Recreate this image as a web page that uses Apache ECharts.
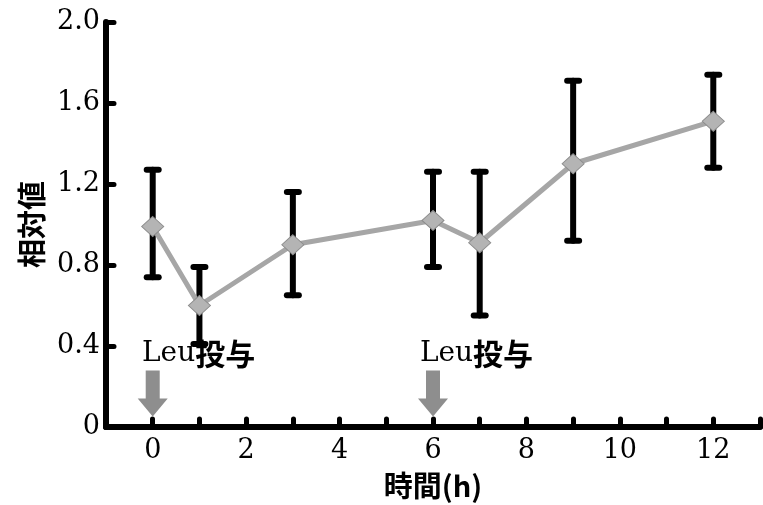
<!DOCTYPE html>
<html>
<head>
<meta charset="utf-8">
<script src="https://cdn.jsdelivr.net/npm/echarts@6/dist/echarts.min.js"></script>
<style>html,body{margin:0;padding:0;background:#fff;}#c{width:763px;height:505px;}</style>
</head>
<body>
<div id="c"></div>
<script>
var times = [0, 1, 3, 6, 7, 9, 12];
var means = [0.99, 0.60, 0.90, 1.02, 0.91, 1.30, 1.51];
var upper = [1.27, 0.79, 1.16, 1.26, 1.26, 1.71, 1.74];
var lower = [0.74, 0.41, 0.65, 0.79, 0.55, 0.92, 1.28];
var doseTimes = [0, 6];
var arrowLevel = 0.165;
var labelPos = [[-0.23, 0.362], [5.72, 0.362]];
var yTicks = ['0', '0.4', '0.8', '1.2', '1.6', '2.0'];
var xTicks = ['0', '2', '4', '6', '8', '10', '12'];

var serif = 'DejaVu Serif';
var gothic = 'Noto Sans CJK JP';

var chart = echarts.init(document.getElementById('c'));
var option = {
  animation: false,
  backgroundColor: '#fff',
  grid: { left: 106, top: 22, bottom: 76.5, width: 661.5, containLabel: false },
  xAxis: {
    type: 'value', min: -1, max: 13, interval: 1,
    name: '時間(h)', nameLocation: 'middle', nameGap: 44,
    nameTextStyle: { fontFamily: gothic, fontWeight: 'bold', fontSize: 29, color: '#000' },
    axisLine: { show: true, onZero: false, lineStyle: { color: '#000', width: 6 } },
    axisTick: { show: true, inside: true, length: 8, lineStyle: { color: '#000', width: 5, cap: 'round' } },
    axisLabel: {
      margin: 10, fontFamily: serif, fontSize: 27, fontWeight: 500, color: '#000',
      formatter: function (v) { var s = String(v); return xTicks.indexOf(s) >= 0 ? s : ''; }
    },
    splitLine: { show: false }
  },
  yAxis: {
    type: 'value', min: 0, max: 2.0, interval: 0.4,
    name: '相対値', nameLocation: 'middle', nameGap: 60, nameRotate: 90,
    nameTextStyle: { fontFamily: gothic, fontWeight: 'bold', fontSize: 29, color: '#000' },
    axisLine: { show: true, onZero: false, lineStyle: { color: '#000', width: 6 } },
    axisTick: { show: true, inside: true, length: 8, lineStyle: { color: '#000', width: 5, cap: 'round' } },
    axisLabel: {
      margin: 6, fontFamily: serif, fontSize: 27, fontWeight: 500, color: '#000',
      formatter: function (v) { var i = Math.round(v / 0.4); return yTicks[i]; }
    },
    splitLine: { show: false }
  },
  series: [
    {
      type: 'custom', z: 2,
      data: times.map(function (t, i) { return [t, lower[i], upper[i]]; }),
      renderItem: function (params, api) {
        var x = api.value(0);
        var lo = api.coord([x, api.value(1)]);
        var hi = api.coord([x, api.value(2)]);
        var hw = 6;
        var st = { stroke: '#000', lineWidth: 6, lineCap: 'round' };
        return {
          type: 'group',
          children: [
            { type: 'line', shape: { x1: lo[0], y1: lo[1], x2: hi[0], y2: hi[1] }, style: st },
            { type: 'line', shape: { x1: hi[0] - hw, y1: hi[1], x2: hi[0] + hw, y2: hi[1] }, style: st },
            { type: 'line', shape: { x1: lo[0] - hw, y1: lo[1], x2: lo[0] + hw, y2: lo[1] }, style: st }
          ]
        };
      }
    },
    {
      type: 'line', z: 3,
      data: times.map(function (t, i) { return [t, means[i]]; }),
      symbol: 'diamond', symbolSize: [22, 20],
      lineStyle: { color: '#a6a6a6', width: 5 },
      itemStyle: { color: '#b4b4b4', borderColor: '#8c8c8c', borderWidth: 1 }
    },
    {
      type: 'scatter', z: 4,
      data: doseTimes.map(function (t) { return [t, arrowLevel]; }),
      symbol: 'path://M8,0 L22,0 L22,28 L30,28 L15,46 L0,28 L8,28 Z',
      symbolSize: [30, 46],
      itemStyle: { color: '#8e8e8e', opacity: 1 }
    },
    {
      type: 'custom', z: 5,
      data: labelPos,
      renderItem: function (params, api) {
        var p = api.coord([api.value(0), api.value(1)]);
        return {
          type: 'text', x: p[0], y: p[1],
          style: {
            text: '{a|Leu}{b|投与}',
            align: 'left', verticalAlign: 'middle',
            rich: {
              a: { fontFamily: serif, fontSize: 28, fill: '#000', color: '#000' },
              b: { fontFamily: gothic, fontSize: 30, fontWeight: 'bold', fill: '#000', color: '#000' }
            }
          }
        };
      }
    }
  ]
};
chart.setOption(option);
</script>
</body>
</html>
